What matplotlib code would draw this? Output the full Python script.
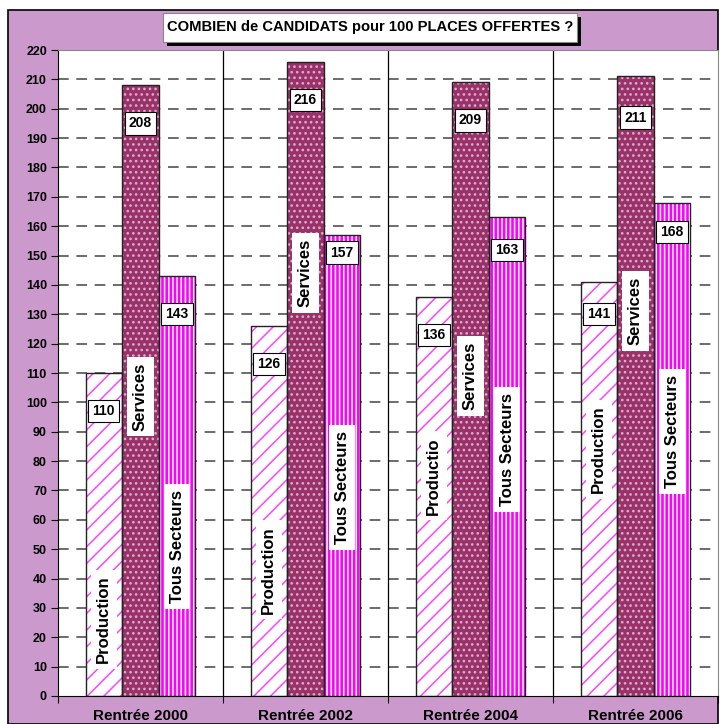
import matplotlib.pyplot as plt
from matplotlib.patches import Rectangle
import numpy as np

#-----data-----#
categories = ["Rentrée 2000", "Rentrée 2002", "Rentrée 2004", "Rentrée 2006"]
series = ["Production", "Services", "Tous Secteurs"]
production = [110, 126, 136, 141]
services = [208, 216, 209, 211]
tous_secteurs = [143, 157, 163, 168]
title = "COMBIEN de CANDIDATS pour 100 PLACES OFFERTES ?"
#-----data-----#

#-----label positions (data units, as placed in the original)-----#
value_label_y = [[97, 113, 123, 130],
                 [195, 203, 196, 197],
                 [130, 151, 152, 158]]
name_label_y = [[26, 43, 75, 84],
                [102, 144, 109, 131],
                [51, 71, 84, 90]]
name_texts = [["Production", "Production", "Productio", "Production"],
              ["Services"] * 4,
              ["Tous Secteurs"] * 4]
#-----label positions-----#

lavender = "#CC99CC"
faces = ["white", "#993366", "#FF00FF"]
hatch_cols = ["#FF44FF", "#E0A8DC", "white"]
hatches = ["//", "...", "||||"]

plt.rcParams['font.family'] = ['Liberation Sans', 'DejaVu Sans']
plt.rcParams['hatch.linewidth'] = 1.1

fig = plt.figure(figsize=(7.2, 7.24), dpi=100)
fig.patches.append(Rectangle((8/720, 0), 710/720, 714/724, transform=fig.transFigure,
                             facecolor=lavender, edgecolor="black", lw=1.2, zorder=-1))

ax = fig.add_axes([58/720, 28/724, 660/720, 646/724])
ax.set_facecolor("white")
ax.set_xlim(-0.5, 3.5)
ax.set_ylim(0, 220)

x = np.arange(len(categories))
w = 0.222
values = [production, services, tous_secteurs]

for gy in range(10, 221, 10):
    ax.axhline(gy, color="#444444", lw=1.1, dashes=(7, 5), zorder=1)
for b in [0.5, 1.5, 2.5]:
    ax.axvline(b, color="black", lw=0.9, zorder=1)

for i, vals in enumerate(values):
    xs = x + (i - 1) * w
    ax.bar(xs, vals, w, color=faces[i], edgecolor=hatch_cols[i], hatch=hatches[i], lw=0, zorder=2)
    ax.bar(xs, vals, w, fill=False, edgecolor="#222222", lw=1.0, zorder=3)
    for j in range(len(categories)):
        ax.text(xs[j], value_label_y[i][j], str(vals[j]), ha="center", va="center",
                fontsize=10, fontweight="bold", zorder=5,
                bbox=dict(boxstyle="square,pad=0.3", facecolor="white", edgecolor="black", lw=0.8))
        ax.text(xs[j], name_label_y[i][j], name_texts[i][j], ha="center", va="center",
                rotation=90, fontsize=12, fontweight="bold", zorder=5,
                bbox=dict(boxstyle="square,pad=0.35", facecolor="white", edgecolor="none"))

ax.set_yticks(range(0, 221, 10))
ax.set_yticklabels([str(v) for v in range(0, 221, 10)], fontsize=9, fontweight="bold")
ax.set_xticks([-0.5, 0.5, 1.5, 2.5, 3.5])
ax.set_xticklabels([])
ax.set_xticks(x, minor=True)
ax.set_xticklabels(categories, minor=True, fontsize=11, fontweight="bold")
ax.tick_params(axis="x", which="minor", length=0, pad=9)
ax.tick_params(axis="x", which="major", length=5, color="black")
ax.tick_params(axis="y", length=5, pad=3)
for s in ["top", "right"]:
    ax.spines[s].set_color("#888888")
ax.spines["left"].set_color("black")
ax.spines["bottom"].set_color("black")

# title box with shadow
fig.patches.append(Rectangle((167/720, 1 - 46/724), 414/720, 29/724, transform=fig.transFigure,
                             facecolor="black", edgecolor="none", zorder=4))
fig.patches.append(Rectangle((163/720, 1 - 42/724), 414/720, 29/724, transform=fig.transFigure,
                             facecolor="white", edgecolor="#888888", lw=0.8, zorder=5))
fig.text(370/720, 1 - 27.5/724, title, ha="center", va="center", fontsize=10.6,
         fontweight="bold", zorder=6)

fig.savefig("out.png", dpi=100)
